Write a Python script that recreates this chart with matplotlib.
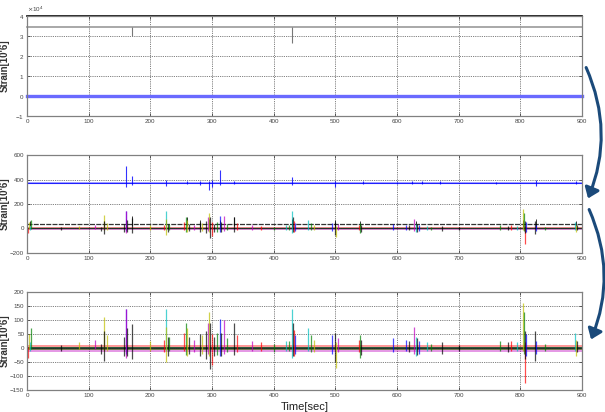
import matplotlib
matplotlib.use("Agg")
import matplotlib.pyplot as plt
from matplotlib.patches import FancyArrowPatch

plt.rcParams['font.family'] = ['Liberation Sans', 'DejaVu Sans']

# ---------------- data ----------------
x_range = [0, 900]

# top panel (raw strain values, shown with x10^4 scale)
top_levels = [40000, 34700, 0]
top_colors = ['k', '#999999', '#6a6aff']
top_spike_t = [170, 430]
top_spike_hi = [34700, 34700]
top_spike_lo = [30000, 26300]

# middle panel extra series
blue_level = 372
blue_band = [362, 382]
blue_spike_t = [160, 170, 225, 260, 280, 295, 300, 313, 335, 430, 500, 545, 600, 625, 640, 670, 760, 825, 890]
blue_spike_hi = [510, 430, 395, 385, 390, 390, 400, 480, 385, 420, 390, 385, 382, 385, 390, 385, 382, 395, 385]
blue_spike_lo = [340, 355, 350, 360, 355, 318, 340, 355, 360, 355, 340, 360, 362, 360, 360, 360, 362, 345, 360]

black40_level = 38
black40_spike_t = [5, 125, 160, 170, 225, 260, 280, 295, 313, 335, 430, 500, 540, 630, 805, 825, 890]
black40_spike_hi = [60, 60, 80, 100, 70, 90, 70, 80, 70, 90, 80, 70, 60, 60, 70, 80, 60]
black40_spike_lo = [20, 20, 10, 20, 20, 20, 10, 0, 10, 20, 10, 0, 20, 20, 10, 10, 20]

# shared low-level sensor group (baselines)
group_colors = ['r', 'y', 'g', 'c', 'k', 'm']
group_band_lo = [0, -6, -3, -3, -6, -16]
group_band_hi = [10, 2, 3, 3, 5, -8]

# shared spikes: time, colour, max, min
spike_t = [3, 7, 1, 5, 55, 85, 110, 120, 125, 125, 130, 158, 160, 161, 162, 170, 200,
           222, 225, 226, 228, 230, 255, 258, 260, 262, 270, 280, 283, 290, 293, 295, 297,
           300, 303, 308, 313, 315, 320, 325, 335, 340, 365, 380, 400, 420, 425, 430, 431,
           433, 435, 455, 460, 465, 495, 500, 501, 505, 538, 540, 542, 593, 615, 620, 628,
           630, 632, 635, 648, 655, 673, 700, 767, 780, 785, 795, 805, 806, 807, 808, 809,
           824, 826, 840, 888, 890, 892]
spike_c = ['y', 'g', 'r', 'c', 'k', 'y', 'm', 'k', 'y', 'k', 'y', 'k', 'b', 'm', 'k', 'k', 'y',
           'r', 'c', 'y', 'k', 'g', 'r', 'g', 'y', 'k', 'm', 'k', 'y', 'k', 'm', 'y', 'k',
           'r', 'k', 'g', 'b', 'k', 'm', 'g', 'k', 'r', 'm', 'r', 'g', 'c', 'g', 'c', 'k',
           'r', 'b', 'c', 'g', 'y', 'b', 'k', 'y', 'm', 'r', 'g', 'k', 'b', 'b', 'k', 'm',
           'c', 'k', 'b', 'c', 'g', 'k', 'k', 'g', 'k', 'r', 'c', 'y', 'g', 'r', 'k', 'b',
           'k', 'b', 'g', 'c', 'y', 'k']
spike_hi = [50, 70, 5, 20, 10, 20, 30, 15, 110, 60, 45, 40, 140, 140, 70, 85, 25,
            30, 140, 75, 40, 40, 55, 90, 70, 40, 30, 50, 45, 60, 90, 130, 90,
            50, 40, 55, 105, 55, 100, 35, 90, 45, 25, 20, 15, 25, 25, 140, 90,
            65, 45, 70, 45, 30, 45, 55, 20, 35, 30, 45, 30, 35, 30, 25, 75,
            40, 35, 25, 20, 15, 20, 10, 25, 20, 25, 20, 160, 130, 20, 60, 50,
            60, 25, 15, 55, 30, 25]
spike_lo = [-5, -5, -35, -10, -10, -5, -5, -20, -10, -45, -10, -30, -20, -35, -30, -40, -10,
            -15, -10, -50, -30, -10, -10, -25, -30, -20, -15, -30, -20, -40, -20, -30, -75,
            -60, -30, -25, -30, -30, -20, -15, -25, -15, -10, -10, -15, -10, -10, -35, -30,
            -30, -20, -10, -15, -15, -20, -50, -72, -15, -15, -35, -25, -15, -10, -15, -20,
            -30, -25, -20, -10, -10, -20, -10, -10, -15, -10, -10, -10, -20, -125, -40, -30,
            -45, -20, -10, -10, -30, -15]

x_ticks = [0, 100, 200, 300, 400, 500, 600, 700, 800, 900]
top_yticks = [-10000, 0, 10000, 20000, 30000, 40000]
mid_yticks = [-200, 0, 200, 400, 600]
bot_yticks = [-150, -100, -50, 0, 50, 100, 150, 200]

ylabel_text = "Strain[10'6]"
xlabel_text = "Time[sec]"

# ---------------- figure ----------------
fig = plt.figure(figsize=(6.05, 4.12), dpi=100)
W, H = 605.0, 412.0


def make_ax(top_px, bot_px):
    left = 27 / W
    width = (582 - 27) / W
    bottom = 1 - bot_px / H
    height = (bot_px - top_px) / H
    ax = fig.add_axes([left, bottom, width, height])
    ax.set_xlim(x_range)
    ax.set_xticks(x_ticks)
    ax.grid(True, linestyle=(0, (1, 1.2)), color='#555555', linewidth=0.6)
    ax.set_axisbelow(True)
    ax.tick_params(direction='in', top=True, right=True, length=2.5, width=0.6,
                   labelsize=4.5, colors='#444444', pad=2)
    for s in ax.spines.values():
        s.set_color('#808080')
        s.set_linewidth(0.9)
    ax.set_ylabel(ylabel_text, fontsize=7, fontweight='bold', color='#333333')
    ax.yaxis.set_label_coords(-0.031, 0.5)
    return ax


def draw_group(ax):
    for c, lo, hi in zip(group_colors, group_band_lo, group_band_hi):
        ax.fill_between(x_range, [lo, lo], [hi, hi], color=c, alpha=0.4, linewidth=0)
    ax.plot(x_range, [0, 0], color='#222222', lw=1.0, alpha=0.75)
    for t, c, hi, lo in zip(spike_t, spike_c, spike_hi, spike_lo):
        ax.vlines(t, lo, hi, color=c, lw=0.9, alpha=0.7)


# top panel
ax1 = make_ax(16, 116)
ax1.set_ylim(-10000, 40000)
ax1.set_yticks(top_yticks)
for lvl, c in zip(top_levels, top_colors):
    lw = 2.4 if c == '#6a6aff' else 1.2
    ax1.plot(x_range, [lvl, lvl], color=c, lw=lw, clip_on=False)
ax1.vlines(top_spike_t, top_spike_lo, top_spike_hi, color='#777777', lw=0.8)
ax1.ticklabel_format(axis='y', style='sci', scilimits=(4, 4), useMathText=True)
ax1.yaxis.get_offset_text().set_fontsize(4.5)
ax1.yaxis.get_offset_text().set_color('#444444')

# middle panel
ax2 = make_ax(155, 253)
ax2.set_ylim(-200, 600)
ax2.set_yticks(mid_yticks)
ax2.fill_between(x_range, [blue_band[0]] * 2, [blue_band[1]] * 2, color='b', alpha=0.35, linewidth=0)
ax2.plot(x_range, [blue_level] * 2, color='b', lw=0.8, alpha=0.8)
ax2.vlines(blue_spike_t, blue_spike_lo, blue_spike_hi, color='b', lw=0.8, alpha=0.8)
ax2.plot(x_range, [black40_level] * 2, color='#333333', lw=0.9, linestyle=(0, (4, 1)))
ax2.vlines(black40_spike_t, black40_spike_lo, black40_spike_hi, color='k', lw=0.7, alpha=0.8)
draw_group(ax2)

# bottom panel
ax3 = make_ax(292, 390)
ax3.set_ylim(-150, 200)
ax3.set_yticks(bot_yticks)
draw_group(ax3)
ax3.set_xlabel(xlabel_text, fontsize=8, color='#222222', labelpad=3)

# decorative curved arrows
arrow_col = '#1b4a7a'
a1 = FancyArrowPatch((585 / W, 1 - 65 / H), (587 / W, 1 - 201 / H),
                     transform=fig.transFigure, connectionstyle='arc3,rad=-0.22',
                     arrowstyle='-|>,head_length=4,head_width=3', color=arrow_col,
                     lw=2.2, mutation_scale=1.5)
a2 = FancyArrowPatch((588 / W, 1 - 207 / H), (590 / W, 1 - 342 / H),
                     transform=fig.transFigure, connectionstyle='arc3,rad=-0.22',
                     arrowstyle='-|>,head_length=4,head_width=3', color=arrow_col,
                     lw=2.2, mutation_scale=1.5)
fig.patches.extend([a1, a2])

fig.savefig('out.png', dpi=100)
